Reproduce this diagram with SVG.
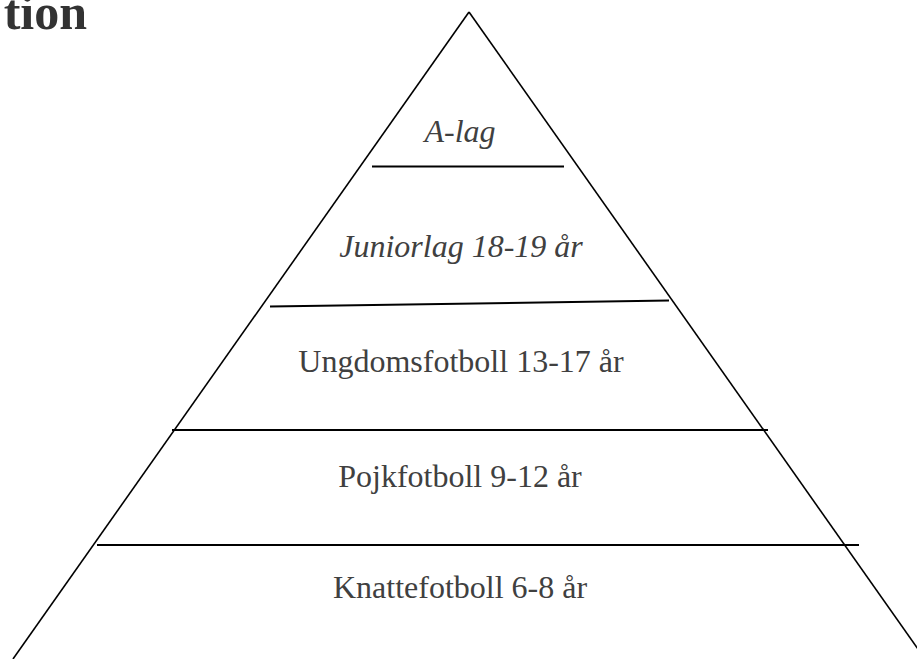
<svg xmlns="http://www.w3.org/2000/svg" width="917" height="659" viewBox="0 0 917 659">
<style>
.edge{stroke:#000;stroke-width:2;fill:none}
.side{stroke:#000;stroke-width:1.6;fill:none}
.lbl{font-family:"Liberation Serif","Times New Roman",serif;font-size:32px;fill:#404040;text-anchor:middle}
.it{font-style:italic}
.title{font-family:"Liberation Serif","Times New Roman",serif;font-size:50px;font-weight:bold;fill:#333;text-anchor:end}
</style>
<rect width="917" height="659" fill="#fff"/>
<text class="title" x="87" y="29">tion</text>
<g id="connectors">
<line class="side" x1="469" y1="12" x2="13" y2="659"/>
<line class="side" x1="469" y1="12" x2="925" y2="659"/>
<line class="edge" x1="372" y1="166.5" x2="564" y2="166.5"/>
<line class="edge" x1="270" y1="306.5" x2="669" y2="300.5"/>
<line class="edge" x1="172" y1="430" x2="768" y2="430"/>
<line class="edge" x1="97" y1="545" x2="859" y2="545"/>
</g>
<g id="a-lag"><text class="lbl it" x="460" y="142">A-lag</text></g>
<g id="juniorlag"><text class="lbl it" x="461" y="257">Juniorlag 18-19 år</text></g>
<g id="ungdom"><text class="lbl" x="461" y="372">Ungdomsfotboll 13-17 år</text></g>
<g id="pojk"><text class="lbl" x="460" y="487">Pojkfotboll 9-12 år</text></g>
<g id="knatte"><text class="lbl" x="460" y="598">Knattefotboll 6-8 år</text></g>
</svg>
